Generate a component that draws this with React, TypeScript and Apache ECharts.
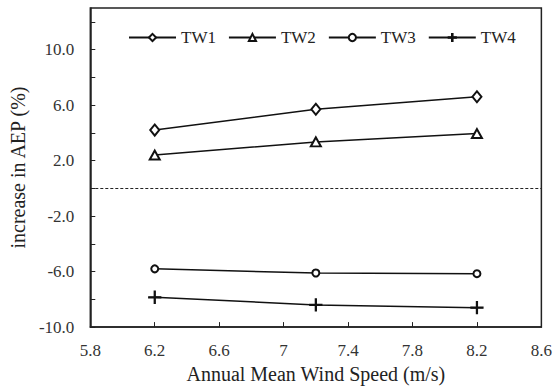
import React, { useEffect, useRef } from "react";
import * as echarts from "echarts";

const windSpeeds = [6.2, 7.2, 8.2];
const tw1 = [4.2, 5.7, 6.6];
const tw2 = [2.4, 3.35, 3.95];
const tw3 = [-5.8, -6.1, -6.15];
const tw4 = [-7.85, -8.4, -8.6];
const seriesNames = ["TW1", "TW2", "TW3", "TW4"];
const xTickValues = [5.8, 6.2, 6.6, 7.0, 7.4, 7.8, 8.2, 8.6];
const yLabelValues = [-10, -6, -2, 2, 6, 10];
const yTickValues = [-10, -8, -6, -4, -2, 0, 2, 4, 6, 8, 10, 12];
const zeroLine = [0];

const FONT = "'Liberation Serif', 'Times New Roman', serif";
const plusPath = "path://M0,9.2H20V10.8H0ZM9.2,0H10.8V20H9.2Z";

export default function App() {
  const ref = useRef<HTMLDivElement>(null);
  useEffect(() => {
    if (!ref.current) return;
    const chart = echarts.init(ref.current, null, { renderer: "svg" });
    const mk = (name: string, vals: number[], symbol: string, size: number | number[]) => ({
      name,
      type: "line",
      data: windSpeeds.map((x, i) => [x, vals[i]]),
      symbol,
      symbolSize: size,
      showAllSymbol: true,
      lineStyle: { color: "#111", width: 1.5 },
      itemStyle: { color: "#111", borderColor: "#111", borderWidth: 1.3 },
    });
    chart.setOption({
      animation: false,
      backgroundColor: "#fff",
      textStyle: { fontFamily: FONT },
      grid: {
        left: 84,
        right: 12,
        top: 8,
        bottom: 53,
        show: true,
        borderColor: "#222",
        borderWidth: 1.5,
        backgroundColor: "transparent",
      },
      legend: {
        top: 29,
        left: 128,
        padding: 0,
        itemWidth: 47,
        itemHeight: 9,
        itemGap: 12,
        textStyle: { fontFamily: FONT, fontSize: 17, color: "#222" },
        data: seriesNames,
      },
      xAxis: {
        type: "value",
        min: 5.8,
        max: 8.6,
        name: "Annual Mean Wind Speed (m/s)",
        nameLocation: "middle",
        nameGap: 32,
        nameTextStyle: { fontFamily: FONT, fontSize: 20, color: "#222" },
        axisLine: { show: true, onZero: false, lineStyle: { color: "#222", width: 1.5 } },
        axisTick: { show: true, inside: true, length: 5, customValues: xTickValues, lineStyle: { color: "#222" } },
        axisLabel: {
          customValues: xTickValues,
          margin: 15,
          fontFamily: FONT,
          fontSize: 17,
          color: "#333",
          formatter: (v: number) => (Math.abs(v - 7) < 1e-6 ? "7" : v.toFixed(1)),
        },
        splitLine: { show: false },
      },
      yAxis: {
        type: "value",
        min: -10,
        max: 13,
        name: "increase in AEP (%)",
        nameLocation: "middle",
        nameGap: 54,
        nameTextStyle: { fontFamily: FONT, fontSize: 20, color: "#222" },
        axisLine: { show: true, onZero: false, lineStyle: { color: "#222", width: 1.5 } },
        axisTick: { show: true, inside: true, length: 5, customValues: yTickValues, lineStyle: { color: "#222" } },
        axisLabel: {
          customValues: yLabelValues,
          margin: 16,
          fontFamily: FONT,
          fontSize: 17,
          color: "#333",
          formatter: (v: number) => v.toFixed(1),
        },
        splitLine: { show: false },
      },
      series: [
        {
          ...mk("TW1", tw1, "emptyDiamond", [9, 11]),
          markLine: {
            silent: true,
            symbol: "none",
            label: { show: false },
            lineStyle: { color: "#222", type: [3, 2], width: 1 },
            data: zeroLine.map((v) => ({ yAxis: v })),
          },
        },
        mk("TW2", tw2, "emptyTriangle", [10, 9]),
        mk("TW3", tw3, "emptyCircle", 7),
        mk("TW4", tw4, plusPath, 12),
      ],
    });
    return () => chart.dispose();
  }, []);
  return <div ref={ref} style={{ position: "fixed", left: 0, top: 0, width: 555, height: 389 }} />;
}
